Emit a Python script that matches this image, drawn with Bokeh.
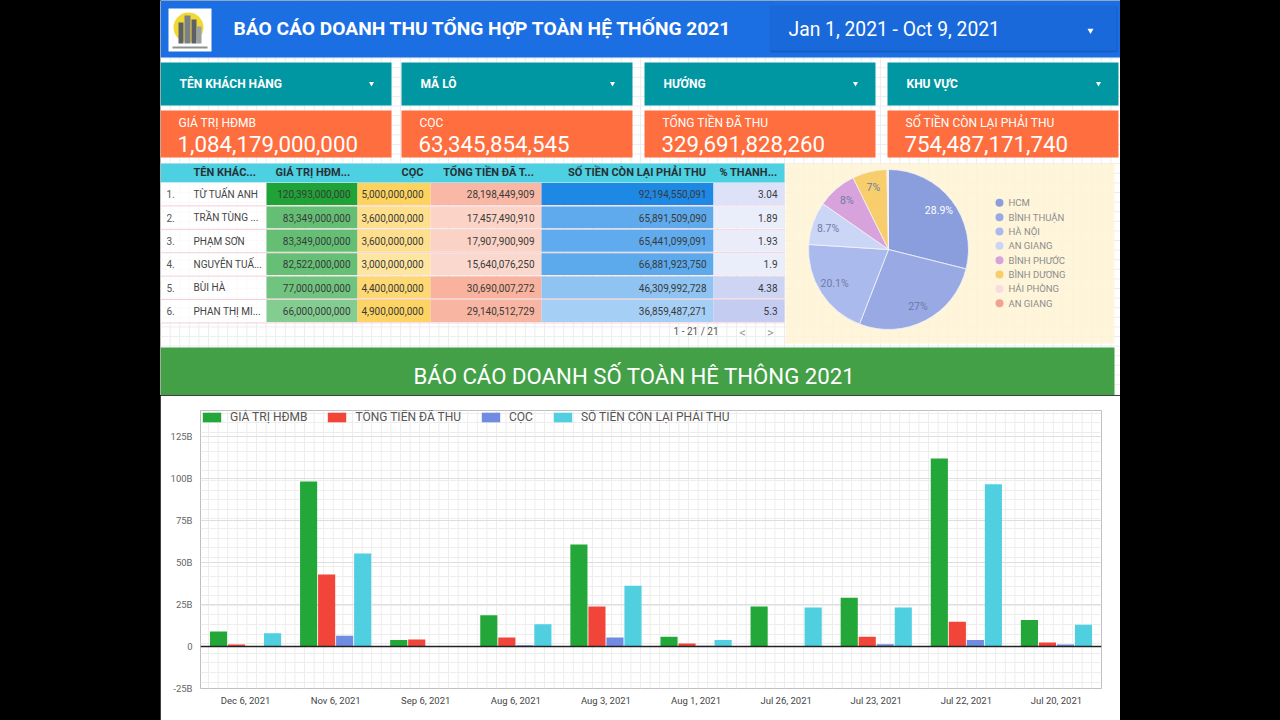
import math
from bokeh.plotting import figure
from bokeh.layouts import row, column
from bokeh.models import (Range1d, FactorRange, ColumnDataSource, Span, FixedTicker,
                          CustomJSTickFormatter, Legend, LegendItem)
from bokeh.transform import dodge
from bokeh.core.properties import value
from bokeh.embed import file_html
from bokeh.resources import INLINE

FONT = "Roboto"

# ---------------- data ----------------
report_title = "BÁO CÁO DOANH THU TỔNG HỢP TOÀN HỆ THỐNG 2021"
date_range_label = "Jan 1, 2021 - Oct 9, 2021"
filter_labels = ["TÊN KHÁCH HÀNG", "MÃ LÔ", "HƯỚNG", "KHU VỰC"]
kpi_labels = ["GIÁ TRỊ HĐMB", "CỌC", "TỔNG TIỀN ĐÃ THU", "SỐ TIỀN CÒN LẠI PHẢI THU"]
kpi_values = [1084179000000, 63345854545, 329691828260, 754487171740]

table_headers = ["TÊN KHÁC...", "GIÁ TRỊ HĐM...", "CỌC", "TỔNG TIỀN ĐÃ T...",
                 "SỐ TIỀN CÒN LẠI PHẢI THU", "% THANH..."]
customer_names = ["TỪ TUẤN ANH", "TRẦN TÙNG ...", "PHẠM SƠN", "NGUYỄN TUẤ...", "BÙI HÀ", "PHAN THỊ MI..."]
tbl_gia_tri = [120393000000, 83349000000, 83349000000, 82522000000, 77000000000, 66000000000]
tbl_coc = [5000000000, 3600000000, 3600000000, 3000000000, 4400000000, 4900000000]
tbl_da_thu = [28198449909, 17457490910, 17907900909, 15640076250, 30690007272, 29140512729]
tbl_con_lai = [92194550091, 65891509090, 65441099091, 66881923750, 46309992728, 36859487271]
tbl_pct = [3.04, 1.89, 1.93, 1.9, 4.38, 5.3]
pagination = "1 - 21 / 21"

regions = ["HCM", "BÌNH THUẬN", "HÀ NỘI", "AN GIANG", "BÌNH PHƯỚC", "BÌNH DƯƠNG", "HẢI PHÒNG", "AN GIANG"]
region_share = [28.9, 27.0, 20.1, 8.7, 8.0, 7.0, 0.2, 0.1]
region_colors = ["#8a9ddc", "#98a9e4", "#abbaed", "#cbd5f6", "#d8a2dc", "#f8ce6c", "#f8dce2", "#f4a191"]

banner_title = "BÁO CÁO DOANH SỐ TOÀN HÊ THÔNG 2021"
dates = ["Dec 6, 2021", "Nov 6, 2021", "Sep 6, 2021", "Aug 6, 2021", "Aug 3, 2021",
         "Aug 1, 2021", "Jul 26, 2021", "Jul 23, 2021", "Jul 22, 2021", "Jul 20, 2021"]
# values in billions (B)
gia_tri_hdmb = [8.9, 98.2, 3.8, 18.6, 60.7, 5.8, 23.8, 29.0, 111.9, 15.7]
tong_tien_da_thu = [1.2, 42.9, 4.2, 5.4, 23.8, 1.8, 0.2, 5.8, 14.7, 2.4]
coc = [0.3, 6.4, 0.0, 0.8, 5.4, 0.5, 0.0, 1.4, 3.8, 1.2]
so_tien_con_lai = [7.9, 55.4, 0.0, 13.3, 36.1, 3.8, 23.2, 23.2, 96.6, 12.9]
y_ticks = [-25, 0, 25, 50, 75, 100, 125]

# ---------------- helpers ----------------
H1 = 395
def Y(y):
    return H1 - y

def txt(p, xs, ys, texts, size, color, align="left", style="normal"):
    p.text(x=xs, y=[Y(v) for v in ys], text=texts, text_font=value(FONT), text_font_size=size,
           text_color=color, text_align=align, text_baseline="middle", text_font_style=style)

def box(p, l, r, t, b, color, alpha=1.0):
    p.quad(left=l, right=r, top=[Y(v) for v in t], bottom=[Y(v) for v in b],
           fill_color=color, fill_alpha=alpha, line_color=None)

def heat(v, vmax, dark):
    t = v / vmax
    return "#%02x%02x%02x" % tuple(round(255 - (255 - c) * t) for c in dark)

def black_side(h):
    s = figure(width=160, height=h, toolbar_location=None, output_backend="svg",
               x_axis_type=None, y_axis_type=None, min_border=0, outline_line_color=None,
               background_fill_color="black", border_fill_color="black",
               x_range=Range1d(0, 1), y_range=Range1d(0, 1))
    s.quad(left=[0], right=[1], top=[1], bottom=[0], fill_color="black", line_color=None)
    return s

GRID = 9.6
EDIT_GRID = "#ededed"

# ---------------- top figure ----------------
top = figure(width=960, height=H1, x_range=Range1d(160, 1120), y_range=Range1d(0, H1),
             toolbar_location=None, output_backend="svg", x_axis_type=None, y_axis_type=None,
             min_border=0, outline_line_color=None, background_fill_color="white",
             border_fill_color="white")

# editor grid
gx = [160 + k * GRID for k in range(int(960 / GRID) + 1)]
gy = [k * GRID for k in range(int(H1 / GRID) + 1)]
top.segment(x0=gx, x1=gx, y0=[0] * len(gx), y1=[H1] * len(gx), line_color=EDIT_GRID, line_width=1)
top.segment(x0=[160] * len(gy), x1=[1120] * len(gy), y0=[Y(v) for v in gy], y1=[Y(v) for v in gy],
            line_color=EDIT_GRID, line_width=1)

# header
box(top, [160], [1120], [0], [57], "#1c6fe3")
box(top, [770], [1117], [6], [52], "#0f4fae", 0.5)
box(top, [769], [1116], [5], [50], "#1969db")
# logo
box(top, [168], [211], [8], [51], "#ffffff")
top.circle(x=[188], y=[Y(27)], radius=15, fill_color="#f1d832", line_color=None)
box(top, [178, 184, 191, 196], [183, 190, 196, 201], [22, 15, 19, 26], [43, 43, 43, 43],
    ["#5d6166", "#7b8087", "#5d6166", "#9aa0a6"])
box(top, [172], [207], [46], [48], "#8d8f92")
txt(top, [233], [28], [report_title], "19.2px", "white", style="bold")
txt(top, [788], [29], [date_range_label], "19.3px", "white")
top.scatter(x=[1090], y=[Y(30)], marker="inverted_triangle", size=6, fill_color="white", line_color=None)

# filters and KPI cards
lefts = [160, 401, 644, 887]
rights = [l + 231 for l in lefts]
box(top, lefts, rights, [62] * 4, [105] * 4, "#0097a3")
txt(top, [l + 19 for l in lefts], [83] * 4, filter_labels, "12px", "white", style="bold")
top.scatter(x=[r - 20 for r in rights], y=[Y(83)] * 4, marker="inverted_triangle", size=5,
            fill_color="white", line_color=None)
box(top, lefts, rights, [110] * 4, [157] * 4, "#fe6e3e")
txt(top, [l + 18 for l in lefts], [122] * 4, kpi_labels, "12px", "white")
txt(top, [l + 17 for l in lefts], [143] * 4, [f"{v:,}" for v in kpi_values], "22.3px", "white")

# table
col_l = [160, 190, 266, 357, 430, 541, 713]
col_r = [190, 266, 357, 430, 541, 713, 784]
box(top, [160], [784], [163], [182], "#4dd0e1")
txt(top, [193], [172], [table_headers[0]], "11px", "#263238", style="bold")
txt(top, [c - 7 for c in col_r[2:]], [172] * 5, table_headers[1:], "11px", "#263238",
    align="right", style="bold")
ROW_H = 23.4
n = len(customer_names)
row_top = [182 + i * ROW_H for i in range(n)]
row_mid = [t + ROW_H / 2 for t in row_top]
box(top, [160] * n, [266] * n, row_top, [t + ROW_H for t in row_top], "#ffffff", 0.75)
# row separators
sep = [t + ROW_H for t in row_top]
top.segment(x0=[160] * n, x1=[784] * n, y0=[Y(v) for v in sep], y1=[Y(v) for v in sep],
            line_color="#f3cfd8", line_width=1)
cols = [
    (tbl_gia_tri, (31, 163, 55), lambda v: f"{v:,}"),
    (tbl_coc, (253, 211, 96), lambda v: f"{v:,}"),
    (tbl_da_thu, (248, 178, 157), lambda v: f"{v:,}"),
    (tbl_con_lai, (30, 136, 229), lambda v: f"{v:,}"),
    (tbl_pct, (196, 204, 242), lambda v: str(v)),
]
for ci, (vals, dark, fmt) in enumerate(cols):
    l, r = col_l[ci + 2], col_r[ci + 2]
    vmax = max(vals)
    box(top, [l] * n, [r] * n, [t + 0.5 for t in row_top], [t + ROW_H - 1 for t in row_top],
        [heat(v, vmax, dark) for v in vals])
    txt(top, [r - 7] * n, row_mid, [fmt(v) for v in vals], "10px", "#3a3a3a", align="right")
txt(top, [166] * n, row_mid, [f"{i + 1}." for i in range(n)], "10px", "#555555")
txt(top, [193] * n, row_mid, customer_names, "10px", "#444444")
txt(top, [718], [331], [pagination], "10px", "#555555", align="right")
txt(top, [742, 770], [332, 332], ["<", ">"], "13px", "#9e9e9e", align="center")

# pie
box(top, [785], [1114], [163], [343], "#fff3d4", 0.85)
cx, cy, R = 888, 249, 80
cum = [0.0]
for s in region_share:
    cum.append(cum[-1] + s)
tot = cum[-1]
starts = [math.pi / 2 - 2 * math.pi * cum[i + 1] / tot for i in range(len(region_share))]
ends = [math.pi / 2 - 2 * math.pi * cum[i] / tot for i in range(len(region_share))]
top.wedge(x=[cx] * len(starts), y=[Y(cy)] * len(starts), radius=R, start_angle=starts,
          end_angle=ends, fill_color=region_colors, line_color="#f4f4f8", line_width=0.8)
lab_x, lab_y, lab_t, lab_c = [], [], [], []
for i, s in enumerate(region_share):
    if s < 5:
        continue
    mid = (starts[i] + ends[i]) / 2
    lab_x.append(cx + 0.8 * R * math.cos(mid))
    lab_y.append(Y(cy) + 0.8 * R * math.sin(mid))
    lab_t.append(("%g" % s) + "%")
    lab_c.append("white" if i == 0 else "#6f7aa5")
top.text(x=lab_x, y=lab_y, text=lab_t, text_color=lab_c, text_font=value(FONT),
         text_font_size="10.5px", text_align="center", text_baseline="middle")
leg_y = [202.3 + i * 14.35 for i in range(len(regions))]
top.scatter(x=[999] * len(regions), y=[Y(v) for v in leg_y], size=8, fill_color=region_colors,
            line_color=None)
txt(top, [1008] * len(regions), leg_y, regions, "9.5px", "#8d8d8d")

# banner
box(top, [160], [1114], [347], [H1], "#43a047")
txt(top, [634], [375], [banner_title], "22.2px", "white", align="center")

# ---------------- bar chart ----------------
FT, FB = 410, 688
FL, FR = 200, 1101
px_per_b = 42 / 25
y_end = 125 + (436 - FT) / px_per_b
bar = figure(width=960, height=325, frame_width=FR - FL, frame_height=FB - FT,
             x_range=FactorRange(*dates), y_range=Range1d(-25, y_end),
             toolbar_location=None, output_backend="svg",
             min_border_left=FL - 160, min_border_right=1120 - FR, min_border_top=FT - H1,
             min_border_bottom=720 - FB, outline_line_color=None,
             background_fill_color="white", border_fill_color="white")

# faint editor grid inside the chart frame (page-pixel positions converted to axis units)
cat_w = (FR - FL) / len(dates)
edit_vx = [(x - FL) / cat_w for x in gx if FL + 2 < x < FR - 2]
edit_hy = [125 - (k * GRID - 436) / px_per_b for k in range(80) if FT + 2 < k * GRID < FB - 2]
eg = bar.segment(x0=edit_vx, x1=edit_vx, y0=[-25] * len(edit_vx), y1=[y_end] * len(edit_vx),
                 line_color=EDIT_GRID, line_width=1)
eg.level = "underlay"

src = ColumnDataSource(dict(date=dates, hdmb=gia_tri_hdmb, dathu=tong_tien_da_thu,
                            coc=coc, conlai=so_tien_con_lai))
series = [("hdmb", "GIÁ TRỊ HĐMB", "#22a738", -0.3),
          ("dathu", "TỔNG TIỀN ĐÃ THU", "#f2453a", -0.1),
          ("coc", "CỌC", "#6f8be2", 0.1),
          ("conlai", "SỐ TIỀN CÒN LẠI PHẢI THU", "#4fcfe0", 0.3)]
items = []
for field, label, color, off in series:
    r = bar.vbar(x=dodge("date", off, range=bar.x_range), top=field, bottom=0, width=0.19,
                 source=src, fill_color=color, line_color=None)
    items.append(LegendItem(label=label, renderers=[r]))

legend = Legend(items=items, location="top_left", orientation="horizontal", margin=0, padding=3,
                spacing=18, glyph_width=23, glyph_height=12, label_height=12, label_standoff=7,
                label_text_font_size="12px", label_text_color="#555555", label_text_font=FONT,
                background_fill_alpha=0, border_line_color=None)
bar.add_layout(legend)

bar.add_layout(Span(location=0, dimension="width", line_color="#222222", line_width=1.5))

bar.xgrid.grid_line_color = None
bar.ygrid.ticker = FixedTicker(ticks=y_ticks, minor_ticks=edit_hy)
bar.ygrid.grid_line_color = "#dedede"
bar.ygrid.minor_grid_line_color = EDIT_GRID
bar.yaxis.ticker = FixedTicker(ticks=y_ticks)
bar.yaxis.formatter = CustomJSTickFormatter(code="return tick == 0 ? '0' : tick + 'B';")
for ax in (bar.xaxis[0], bar.yaxis[0]):
    ax.axis_line_color = None
    ax.major_tick_line_color = None
    ax.minor_tick_line_color = None
    ax.major_tick_out = 0
    ax.major_tick_in = 0
    ax.minor_tick_out = 0
    ax.major_label_text_font = FONT
    ax.major_label_text_font_size = "9.5px"
bar.yaxis.major_label_text_color = "#666666"
bar.yaxis.major_label_standoff = 8
bar.xaxis.major_label_text_color = "#444444"
bar.xaxis.major_label_standoff = 6

layout = column(row(black_side(H1), top, black_side(H1), styles={"background-color": "black"}),
                row(black_side(325), bar, black_side(325), styles={"background-color": "black"}),
                styles={"background-color": "black"})

open("out.html", "w").write(file_html(layout, INLINE))
